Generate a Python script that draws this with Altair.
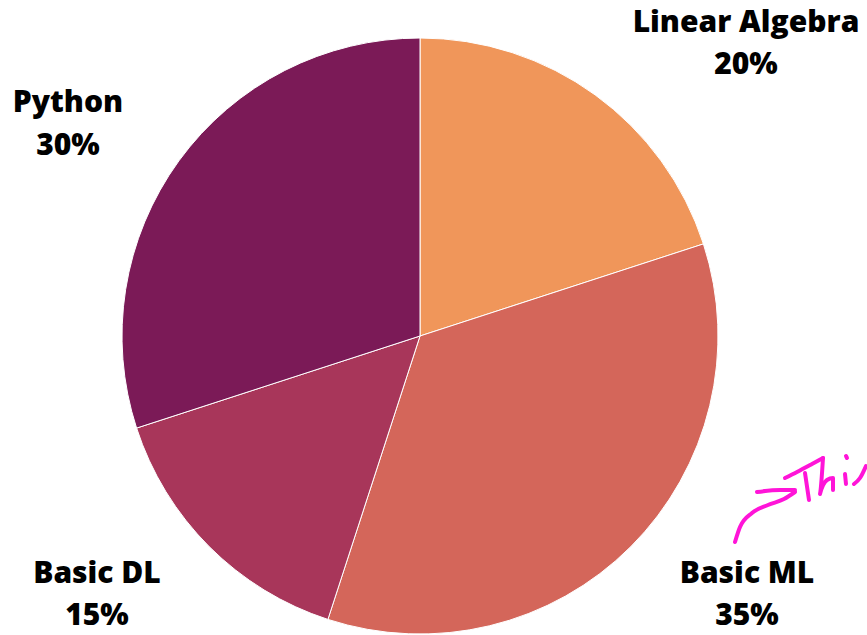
import altair as alt
import pandas as pd

categories = ["Linear Algebra", "Basic ML", "Basic DL", "Python"]
shares = [20, 35, 15, 30]
colors = ["#F0965A", "#D4665A", "#A8365A", "#7B1A57"]

# label anchor positions (pixel space)
label_x = [746, 747, 97, 68]
label_y1 = [23, 574, 574, 103]
label_y2 = [65, 616, 616, 146]

# handwritten annotation strokes (pixel space)
stroke_id = [0]*6 + [1]*3 + [2]*4 + [3]*2 + [4]*5 + [5]*2 + [6]*2 + [7]*3
stroke_x = [735, 740, 752, 768, 784, 795,
            757, 780, 795,
            785, 797, 812, 823,
            805, 809,
            823, 820, 827, 833, 833,
            845, 846,
            846, 847,
            854, 860, 866]
stroke_y = [542, 527, 513, 505, 499, 492,
            492, 490, 490,
            478, 472, 464, 458,
            473, 500,
            458, 494, 480, 478, 490,
            474, 484,
            456, 458,
            484, 478, 466]

W, H = 867, 635

pie_df = pd.DataFrame({"cat": categories, "share": shares, "idx": list(range(len(categories)))})

rows = []
for c, s, x, y1, y2 in zip(categories, shares, label_x, label_y1, label_y2):
    rows.append({"t": c, "x": x, "y": y1})
    rows.append({"t": f"{s}%", "x": x, "y": y2})
lab_df = pd.DataFrame(rows)

stroke_df = pd.DataFrame({"sid": stroke_id, "x": stroke_x, "y": stroke_y,
                          "o": list(range(len(stroke_x)))})

xs = alt.Scale(domain=[0, W], nice=False, zero=False)
ys = alt.Scale(domain=[H, 0], nice=False, zero=False)

pie = alt.Chart(pie_df).mark_arc(radius=298, stroke="white", strokeWidth=1).encode(
    theta=alt.Theta("share:Q", stack=True),
    order=alt.Order("idx:O"),
    color=alt.Color("cat:N", scale=alt.Scale(domain=categories, range=colors), legend=None),
    x=alt.value(420),
    y=alt.value(336),
)

text = alt.Chart(lab_df).mark_text(font="Open Sans", fontWeight=800, fontSize=30,
                                   color="black", align="center", baseline="middle").encode(
    x=alt.X("x:Q", scale=xs, axis=None),
    y=alt.Y("y:Q", scale=ys, axis=None),
    text="t:N",
)

strokes = alt.Chart(stroke_df).mark_line(color="#FF14D8", strokeWidth=4,
                                         strokeCap="round", strokeJoin="round",
                                         interpolate="monotone").encode(
    x=alt.X("x:Q", scale=xs, axis=None),
    y=alt.Y("y:Q", scale=ys, axis=None),
    detail="sid:N",
    order="o:Q",
)

chart = alt.layer(pie, text, strokes).properties(
    width=W, height=H, padding=0, autosize=alt.AutoSizeParams(type="none"),
    background="white",
).configure_view(stroke=None)

chart.save("out.html", embed_options={"renderer": "svg", "actions": False})
